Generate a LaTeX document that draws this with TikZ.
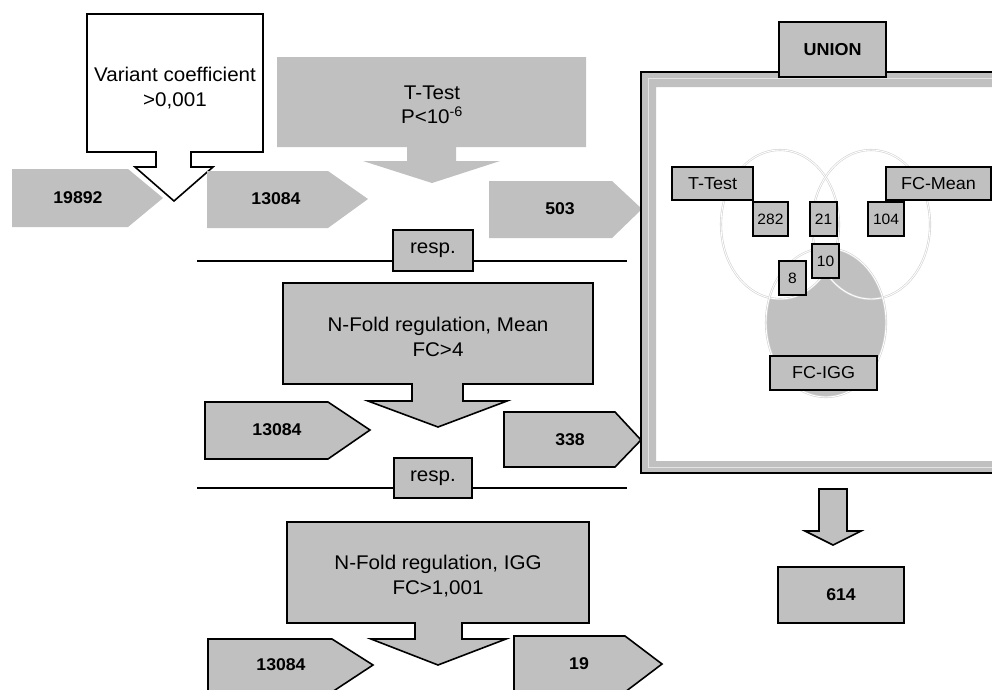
\documentclass[tikz,border=0pt]{standalone}
\usepackage{fontspec}
\setmainfont{Liberation Sans}[FakeStretch=1.04]
\definecolor{boxgray}{HTML}{C0C0C0}
\definecolor{venngray}{HTML}{D2D2D2}
\definecolor{bandline}{HTML}{E4E4E4}
\tikzset{
  bord/.style={draw=black, line width=1.6pt, line join=miter},
  maintxt/.style={font=\fontsize{19.8}{24.5}\selectfont, align=center, inner sep=0pt},
  numtxt/.style={font=\bfseries\fontsize{17}{19}\selectfont, inner sep=0pt},
  lblbox/.style={draw=black, line width=1.6pt, fill=boxgray, inner sep=0pt},
  vennlbl/.style={lblbox, font=\fontsize{17.3}{19}\selectfont},
  vennnum/.style={lblbox, font=\fontsize{15}{17}\selectfont},
  vennline/.style={draw=venngray, line width=0.6pt, double=white, double distance=0.9pt},
}
\begin{document}
\begin{tikzpicture}[x=1pt,y=-1pt]
\clip (0,0) rectangle (992,689);
\fill[white] (0,0) rectangle (992,689);

% ---------- first row ----------
\fill[boxgray] (12,169) -- (128,169) -- (163,198) -- (128,227) -- (12,227) -- cycle;
\node[numtxt] (n19892) at (78,198) {19892};
\path[bord, fill=white] (87,14) -- (263,14) -- (263,152) -- (191,152) -- (191,167) -- (213,167)
  -- (174,201) -- (135,167) -- (156,167) -- (156,152) -- (87,152) -- cycle;
\node[maintxt] (varc) at (175,88) {Variant coefficient\\>0,001};

\fill[boxgray] (207,171) -- (328,171) -- (368,199) -- (328,228) -- (207,228) -- cycle;
\node[numtxt] (n13084a) at (276,199) {13084};

\fill[boxgray] (277,57) -- (586,57) -- (586,147) -- (456,147) -- (456,161) -- (500,161)
  -- (432,183) -- (363,161) -- (407,161) -- (407,147) -- (277,147) -- cycle;
\node[maintxt] (ttest) at (432,105) {T-Test\\P<10\textsuperscript{-6}};

\fill[boxgray] (489,181) -- (612,181) -- (642,209) -- (612,238) -- (489,238) -- cycle;
\node[numtxt] (n503) at (560,209) {503};

% ---------- separator 1 ----------
\node[lblbox, maintxt, minimum width=80pt, minimum height=41pt] (resp1) at (433,250.5) {resp.};
\coordinate (s1a) at (197,261);
\coordinate (s1b) at (627,261);
\draw[line width=1.6pt] (s1a) -- (s1a -| resp1.west);
\draw[line width=1.6pt] (resp1.east |- s1b) -- (s1b);

% ---------- second row ----------
\path[bord, fill=boxgray] (283,283) -- (593,283) -- (593,384) -- (463,384) -- (463,401) -- (507,401)
  -- (438,427) -- (368,401) -- (412,401) -- (412,384) -- (283,384) -- cycle;
\node[maintxt] (nfmean) at (438,337) {N-Fold regulation, Mean\\FC>4};

\path[bord, fill=boxgray] (205,402) -- (328,402) -- (370,430) -- (328,459) -- (205,459) -- cycle;
\node[numtxt] (n13084b) at (277,430) {13084};

\path[bord, fill=boxgray] (504,412) -- (615,412) -- (641,440) -- (615,467) -- (504,467) -- cycle;
\node[numtxt] (n338) at (570,440) {338};

% ---------- separator 2 ----------
\node[lblbox, maintxt, minimum width=78pt, minimum height=40pt] (resp2) at (433,478) {resp.};
\coordinate (s2a) at (197,488);
\coordinate (s2b) at (627,488);
\draw[line width=1.6pt] (s2a) -- (s2a -| resp2.west);
\draw[line width=1.6pt] (resp2.east |- s2b) -- (s2b);

% ---------- third row ----------
\path[bord, fill=boxgray] (287,522) -- (589,522) -- (589,623) -- (462,623) -- (462,639) -- (506,639)
  -- (438,665) -- (371,639) -- (415,639) -- (415,623) -- (287,623) -- cycle;
\node[maintxt] (nfigg) at (438,576) {N-Fold regulation, IGG\\FC>1,001};

\path[bord, fill=boxgray] (208,639) -- (332,639) -- (373,665) -- (332,692) -- (208,692) -- cycle;
\node[numtxt] (n13084c) at (281,665) {13084};

\path[bord, fill=boxgray] (514,636) -- (625,636) -- (662,664) -- (625,692) -- (514,692) -- cycle;
\node[numtxt] (n19) at (579,664) {19};

% ---------- union frame ----------
\fill[boxgray, even odd rule] (641,72) rectangle (1010,473) (656,87) rectangle (1010,461);
\draw[bandline, line width=1pt] (648,78.5) rectangle (1004,467);
\draw[black, line width=2pt] (641,72) rectangle (1010,473);
\node[lblbox, font=\bfseries\fontsize{17.3}{19}\selectfont, minimum width=107pt, minimum height=55pt] (union) at (832.5,49.5) {UNION};

% Venn
\fill[boxgray] (826,322.5) ellipse [x radius=60, y radius=74.5];
\fill[white] (780,224.5) ellipse [x radius=59, y radius=74.5];
\path[vennline] (780,224.5) ellipse [x radius=59, y radius=74.5];
\path[vennline] (871,224.5) ellipse [x radius=59, y radius=74.5];
\path[vennline] (826,322.5) ellipse [x radius=60, y radius=74.5];

\node[vennlbl, minimum width=81pt, minimum height=33pt] (vtt) at (712.5,183.5) {T-Test};
\node[vennlbl, minimum width=105pt, minimum height=33pt] (vfm) at (938.5,183.5) {FC-Mean};
\node[vennlbl, minimum width=107pt, minimum height=34pt] (vfi) at (823.5,373) {FC-IGG};
\node[vennnum, minimum width=35pt, minimum height=34pt] (v282) at (770.5,219) {282};
\node[vennnum, minimum width=27pt, minimum height=34pt] (v21) at (823.5,219) {21};
\node[vennnum, minimum width=36pt, minimum height=34pt] (v104) at (886,219) {104};
\node[vennnum, minimum width=27pt, minimum height=34pt] (v10) at (825.5,261) {10};
\node[vennnum, minimum width=27pt, minimum height=34pt] (v8) at (792.5,278) {8};

% ---------- result ----------
\path[bord, fill=boxgray] (819,489) -- (847,489) -- (847,531) -- (861,531) -- (833,545) -- (805,531) -- (819,531) -- cycle;
\node[lblbox, numtxt, minimum width=126pt, minimum height=56pt] (n614) at (841,595) {614};
\end{tikzpicture}
\end{document}
